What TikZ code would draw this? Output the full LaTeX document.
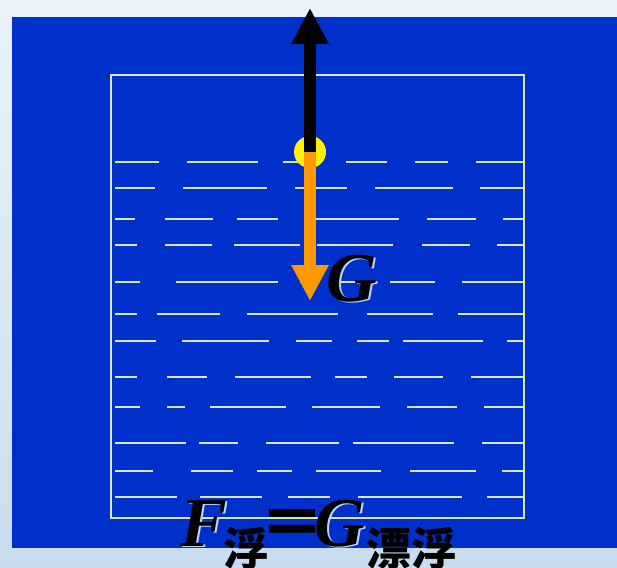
\documentclass[tikz,border=0pt]{standalone}
\usepackage{fontspec}
\setmainfont{Liberation Serif}
\newfontfamily\cjk{Noto Sans CJK SC}
\usepackage{xcolor}
\usetikzlibrary{arrows.meta}
\definecolor{PageTop}{RGB}{234,242,250}
\definecolor{PageBot}{RGB}{201,220,239}
\definecolor{WaterBlue}{RGB}{0,48,204}
\definecolor{RippleLine}{RGB}{218,232,172}
\definecolor{WeightOrange}{RGB}{255,153,0}
\definecolor{GlowBlue}{RGB}{190,210,245}
\newcommand\symfont{\fontsize{70pt}{70pt}\selectfont\bfseries\itshape}
\newcommand\subfont{\cjk\fontsize{45pt}{45pt}\selectfont\bfseries}
\newcommand\eqfont{\cjk\fontsize{66pt}{66pt}\selectfont\bfseries}

\begin{document}
\begin{tikzpicture}[x=1pt,y=-1pt,every node/.style={inner sep=0pt,outer sep=0pt}]
\tikzset{ripple/.style={draw=RippleLine,line width=2pt},
  forcearrow/.style={line width=12pt,-{Triangle[length=36pt,width=35pt]}},
  symtext/.style={anchor=base west,font=\symfont},
  subtext/.style={anchor=base west,font=\subfont}}
\useasboundingbox (0,0) rectangle (617,567);
% page and water
\fill[top color=PageTop,bottom color=PageBot] (0,0) rectangle (617,567);
\fill[WaterBlue] (12,17) rectangle (617,548);
\foreach \y/\segs in {162/{115/159,187/258,283/310,346/387,415/448,476/524},
  188/{115/155,183/267,295/347,375/453,480/524},
  219/{115/135,165/213,237/278,316/399,427/476,503/524},
  245/{115/137,165/212,234/300,317/393,422/470,497/524},
  282/{115/140,176/278,300/307,333/370,390/435,462/524},
  314/{115/137,157/220,247/338,367/433,458/524},
  341/{115/156,182/269,296/332,357/389,403/483,507/524},
  377/{115/137,167/207,235/311,335/367,394/443,471/524},
  407/{115/140,167/185,210/286,312/380,407/457,484/524},
  443/{115/186,199/238,266/339,353/454,482/524},
  471/{115/153,191/233,257/292,316/381,410/476,502/524},
  497/{115/177,200/262,288/330,358/462,487/524}}
  {\foreach \a/\b in \segs {\draw[ripple] (\a,\y) -- (\b,\y);}}
\draw[RippleLine,line width=1.5pt] (111,75) rectangle (524,518);
% floating ball and forces
\node[circle,fill=yellow,minimum size=32pt] (ball) at (310,152) {};
\coordinate (uptip) at (310,8);
\coordinate (downtip) at (310,301);
\draw[forcearrow,draw=black,fill=black] (ball.center) -- (uptip);
\draw[forcearrow,draw=WeightOrange,fill=WeightOrange] (ball.center) -- (downtip);
\node[symtext,text=GlowBlue] (Gglow) at (328,302) {G};
\node[symtext] (Glabel) at (326,301) {G};
% formula
\node[symtext,text=GlowBlue] (Fglow) at (182,547) {F};
\node[symtext] (Fsym) at (180,546) {F};
\node[subtext] (Fsub) at (223,565) {浮};
\node[font=\eqfont] (eq) at (292,528) {＝};
\node[symtext,text=GlowBlue] (Gglow2) at (316,547) {G};
\node[symtext] (Gsym) at (314,546) {G};
\node[subtext] (Gsub) at (366,565) {漂浮};
\end{tikzpicture}
\end{document}
